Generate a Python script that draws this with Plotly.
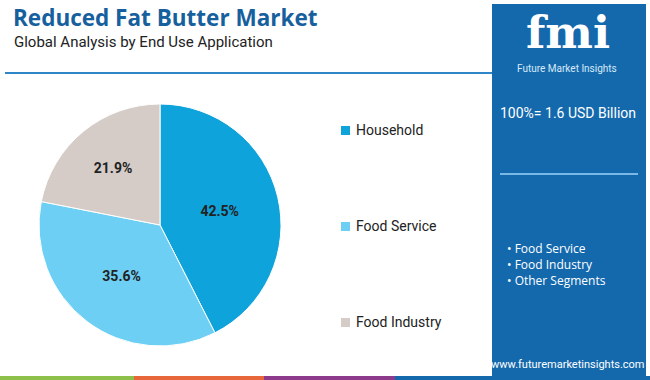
import plotly.graph_objects as go

labels = ["Household", "Food Service", "Food Industry"]
values = [42.5, 35.6, 21.9]
colors = ["#0fa3dc", "#6dcff3", "#d5ccc8"]
panel_items = ["Food Service", "Food Industry", "Other Segments"]
stripe_colors = ["#8cc04a", "#e8673a", "#8e3a8c", "#1469ad"]

W, H = 650, 380
fig = go.Figure()
fig.add_trace(go.Pie(
    labels=labels, values=values, sort=False, direction="clockwise", rotation=0,
    marker=dict(colors=colors, line=dict(color="white", width=1)),
    texttemplate="<b>%{value:.1f}%</b>", textposition="inside",
    insidetextorientation="horizontal",
    textfont=dict(family="Roboto, Arial", size=14, color="#222222"),
    domain=dict(x=[39 / W, 281 / W], y=[(H - 347) / H, (H - 103) / H]),
    showlegend=False, hoverinfo="label+percent",
))

shapes = []
annotations = []
def px(x):
    return x / W
def py(y):
    return 1 - y / H

# header
annotations.append(dict(x=px(11), y=py(17), xref="paper", yref="paper", xanchor="left", yanchor="middle",
                        text="<b>Reduced Fat Butter Market</b>", showarrow=False,
                        font=dict(family="Open Sans, Arial", size=22.5, color="#17609e")))
annotations.append(dict(x=px(12), y=py(42), xref="paper", yref="paper", xanchor="left", yanchor="middle",
                        text="Global Analysis by End Use Application", showarrow=False,
                        font=dict(family="Roboto, Arial", size=15, color="#222222")))
shapes.append(dict(type="line", xref="paper", yref="paper", x0=px(5), x1=px(492), y0=py(73), y1=py(73),
                   line=dict(color="#2f86c6", width=2)))

# legend
leg_y = [130, 226, 322]
for lab, col, yy in zip(labels, colors, leg_y):
    shapes.append(dict(type="rect", xref="paper", yref="paper", x0=px(341), x1=px(350),
                       y0=py(yy + 5), y1=py(yy - 4), fillcolor=col, line=dict(width=0)))
    annotations.append(dict(x=px(354), y=py(yy), xref="paper", yref="paper", xanchor="left", yanchor="middle",
                            text=lab, showarrow=False,
                            font=dict(family="Roboto, Arial", size=14, color="#222222")))

# right panel
shapes.append(dict(type="rect", xref="paper", yref="paper", x0=px(492), x1=px(646), y0=py(376), y1=py(4),
                   fillcolor="#1469ad", line=dict(width=0), layer="below"))
shapes.append(dict(type="line", xref="paper", yref="paper", x0=px(500), x1=px(638), y0=py(174), y1=py(174),
                   line=dict(color="#7ab8e6", width=2)))
annotations.append(dict(x=px(568), y=py(61), xref="paper", yref="paper", xanchor="center", yanchor="bottom",
                        text="<b>fmi</b>", showarrow=False,
                        font=dict(family="DejaVu Serif, serif", size=45, color="white")))
annotations.append(dict(x=px(567), y=py(68), xref="paper", yref="paper", xanchor="center", yanchor="middle",
                        text="Future Market Insights", showarrow=False,
                        font=dict(family="Roboto, Arial", size=10, color="#d8eaf8")))
annotations.append(dict(x=px(568), y=py(113), xref="paper", yref="paper", xanchor="center", yanchor="middle",
                        text="100%= 1.6 USD Billion", showarrow=False,
                        font=dict(family="Roboto, Arial", size=14, color="white")))
for i, it in enumerate(panel_items):
    annotations.append(dict(x=px(505), y=py(248 + i * 16), xref="paper", yref="paper", xanchor="left",
                            yanchor="middle", text="• " + it, showarrow=False,
                            font=dict(family="Open Sans, Arial", size=12, color="white")))
annotations.append(dict(x=px(568), y=py(364), xref="paper", yref="paper", xanchor="center", yanchor="middle",
                        text="www.futuremarketinsights.com", showarrow=False,
                        font=dict(family="Roboto, Arial", size=11, color="white")))

# bottom stripes
bounds = [0, 134, 264, 395, 650]
for i, c in enumerate(stripe_colors):
    shapes.append(dict(type="rect", xref="paper", yref="paper", x0=px(bounds[i]), x1=px(bounds[i + 1]),
                       y0=0, y1=py(376), fillcolor=c, line=dict(width=0)))

fig.update_layout(width=W, height=H, margin=dict(l=0, r=0, t=0, b=0),
                  paper_bgcolor="white", plot_bgcolor="white",
                  shapes=shapes, annotations=annotations)
fig.write_html("out.html", config={"displayModeBar": False},
               post_script="document.body.style.margin='0';document.body.style.overflow='hidden';")
